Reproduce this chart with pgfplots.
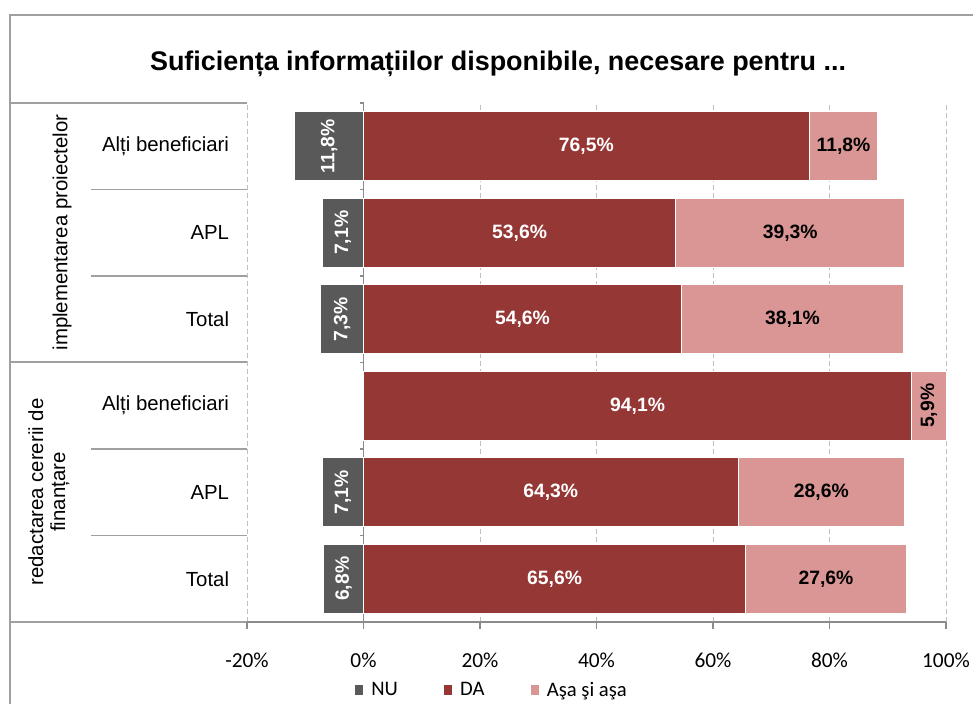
\documentclass[border=0pt]{standalone}
\usepackage{pgfplots}
\usepackage{pgfplotstable}
\pgfplotsset{compat=1.18}
\usepackage{fontspec}
\setmainfont{Liberation Sans}
\newfontfamily\arial{Liberation Sans}
\newfontfamily\calibri{Carlito}
\definecolor{nuc}{HTML}{595959}
\definecolor{dac}{HTML}{953735}
\definecolor{asc}{HTML}{D99694}
\definecolor{gridc}{HTML}{BFBFBF}
\definecolor{axc}{HTML}{8C8C8C}
\definecolor{framec}{HTML}{A0A0A0}

\pgfplotstableread{
pos nu da as rot
6 11.8 76.5 11.8 0
5 7.1 53.6 39.3 0
4 7.3 54.6 38.1 0
3 0 94.1 5.9 90
2 7.1 64.3 28.6 0
1 6.8 65.6 27.6 0
}\datatable

\pgfplotsset{
 base/.style={scale only axis, width=524.25pt, height=389.25pt,
   xmin=-20, xmax=100, ymin=0.5, ymax=6.5,
   at={(185.25pt,61.5pt)}, anchor=south west, bar width=51.75pt, clip=false,
   /pgf/number format/assume math mode=true},
}
\tikzset{lbl/.style={font=\arial\bfseries\fontsize{14.5}{17}\selectfont}}
\newcommand\pct{\pgfmathprintnumber[fixed,fixed zerofill,precision=1,use comma]{\pgfplotspointmeta}\%}

\begin{document}
\begin{tikzpicture}
\path[use as bounding box] (0,0) rectangle (729.75pt,528pt);
% frame and label area
\draw[framec, line width=1pt] (7.5pt,0pt) -- (7.5pt,516.75pt) -- (729.75pt,516.75pt);
\draw[framec, line width=1pt] (7.5pt,450.75pt) -- (185.25pt,450.75pt);
\draw[framec, line width=1pt] (7.5pt,256.5pt) -- (185.25pt,256.5pt);
\draw[framec, line width=1pt] (7.5pt,61.5pt) -- (185.25pt,61.5pt);
\foreach \yy in {385.875,321,191.25,126.375}
  \draw[framec, line width=1pt] (68.25pt,\yy pt) -- (185.25pt,\yy pt);
\node[anchor=base, font=\arial\bfseries\fontsize{20.2}{24}\selectfont] at (373.5pt,474.75pt)
  {Suficiența informațiilor disponibile, necesare pentru ...};
\node[rotate=90, font=\arial\fontsize{15.3}{18}\selectfont] at (46.5pt,353.6pt) {implementarea proiectelor};
\node[rotate=90, align=center, font=\arial\fontsize{15.3}{16.5}\selectfont] at (36.75pt,159pt)
  {redactarea cererii de\\finanțare};

\begin{axis}[base, xbar,
  legend image code/.code={\fill[#1, draw=none] (0pt,-3.4pt) rectangle (6.2pt,3.4pt);},
  axis x line*=bottom, axis y line*=left,
  y axis line style={draw=none}, ytick style={draw=none},
  x axis line style={axc, line width=1pt},
  tick align=outside, major tick length=5.25pt,
  xtick style={axc, line width=1pt},
  xtick={-20,0,20,40,60,80,100},
  xticklabel={\pgfmathprintnumber{\tick}\%},
  xticklabel style={font=\calibri\fontsize{16}{19}\selectfont, yshift=-14.5pt},
  xmajorgrids, major grid style={gridc, dash pattern=on 3.75pt off 2.25pt, line width=0.75pt},
  ytick={1,2,3,4,5,6},
  yticklabels={Total,APL,Alți beneficiari,Total,APL,Alți beneficiari},
  yticklabel style={font=\arial\fontsize{15.3}{18}\selectfont, anchor=east, inner sep=0pt, xshift=-8pt},
  legend style={at={(0.349,-0.131)}, anchor=center, draw=none, fill=none,
    legend columns=-1, font=\calibri\fontsize{15.5}{18}\selectfont,
    nodes={inner sep=0pt},
    /tikz/every odd column/.append style={column sep=6pt},
    /tikz/every even column/.append style={column sep=34.5pt}},
]
\addplot[fill=nuc, draw=white, line width=0.75pt,
  skip coords between index={3}{4},
  nodes near coords=\pct, point meta=explicit,
  visualization depends on={\thisrow{nu} \as \rawx},
  every node near coord/.append style={lbl, white, shift={(axis direction cs:\rawx/2,0)}, rotate=90, anchor=center}]
  table[x expr=-\thisrow{nu}, y=pos, meta=nu]{\datatable};
\addlegendentry{NU}
\addlegendimage{fill=dac}
\addlegendentry{DA}
\addlegendimage{fill=asc}
\addlegendentry{Aşa şi aşa}
\end{axis}

\begin{axis}[base, hide axis, xbar stacked]
\addplot[fill=dac, draw=white, line width=0.75pt,
  nodes near coords=\pct, point meta=explicit,
  every node near coord/.append style={lbl, white, anchor=center}]
  table[x=da, y=pos, meta=da]{\datatable};
\addplot[fill=asc, draw=white, line width=0.75pt,
  nodes near coords=\pct, point meta=explicit,
  visualization depends on={\thisrow{rot} \as \rot},
  every node near coord/.append style={lbl, black, rotate=\rot, anchor=center}]
  table[x=as, y=pos, meta=as]{\datatable};
\draw[axc, line width=1pt] (axis cs:0,0.5) -- (axis cs:0,6.5);
\pgfplotsinvokeforeach{0.5,1.5,2.5,3.5,4.5,5.5,6.5}{
  \draw[axc, line width=1pt] (axis cs:0,#1) -- ([xshift=-2.5pt]axis cs:0,#1);
}
\end{axis}
\end{tikzpicture}
\end{document}
